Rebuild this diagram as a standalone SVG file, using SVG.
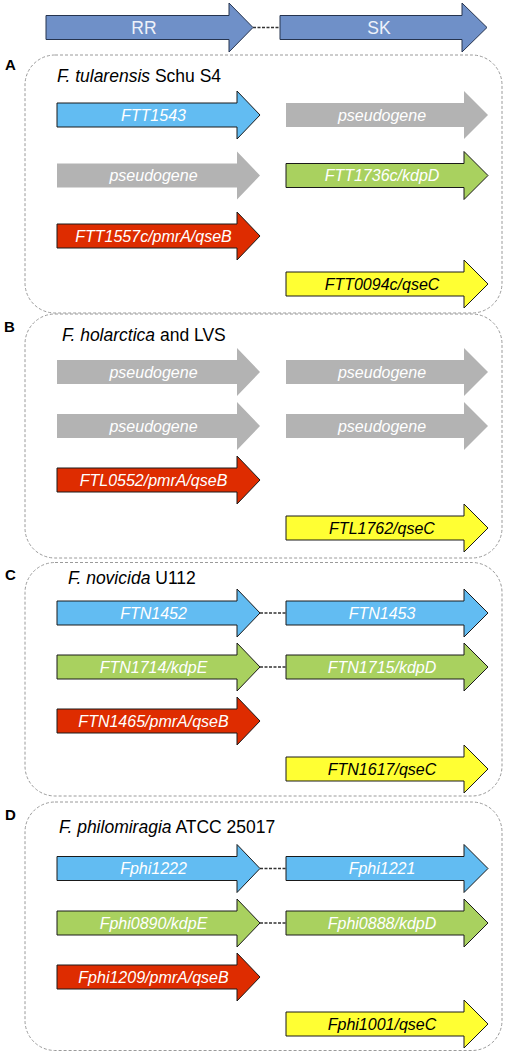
<svg xmlns="http://www.w3.org/2000/svg" xmlns:xlink="http://www.w3.org/1999/xlink" width="508" height="1054" viewBox="0 0 508 1054">
<style>
.box{fill:none;stroke:#9a9a9a;stroke-width:1;stroke-dasharray:3 2}
.lab{font-family:"Liberation Sans",Arial,sans-serif;font-size:15px;font-weight:bold;fill:#000}
.ttl{font-family:"Liberation Sans",Arial,sans-serif;font-size:17.5px;fill:#000}
.g{font-family:"Liberation Sans",Arial,sans-serif;font-size:16px;font-style:italic;fill:#fff;text-anchor:middle}
.gk{fill:#000}
.top{font-family:"Liberation Sans",Arial,sans-serif;font-size:17.5px;fill:#eef2fa;text-anchor:middle}
.conn{stroke:#333;stroke-width:1.5;stroke-dasharray:3 1.5;fill:none}
.blue{fill:#62bcf2;stroke:#1a1a1a;stroke-width:1}
.gray{fill:#b3b3b3}
.green{fill:#a9d15f;stroke:#1a1a1a;stroke-width:1}
.red{fill:#de2c00;stroke:#1a1a1a;stroke-width:1}
.yel{fill:#ffff33;stroke:#1a1a1a;stroke-width:1}
.steel{fill:#6f90c8;stroke:#26344f;stroke-width:1}
</style>
<defs>
<path id="la" d="M57,-12 H237 V-24 L260,0 L237,24 V12 H57 Z"/>
<path id="ra" d="M286,-12 H464 V-24 L488,0 L464,24 V12 H286 Z"/>
</defs>
<rect width="508" height="1054" fill="#fff"/>

<g id="connectors">
<line class="conn" x1="253" y1="27.5" x2="280" y2="27.5"/>
<line class="conn" x1="260" y1="613" x2="286" y2="613"/>
<line class="conn" x1="260" y1="667" x2="286" y2="667"/>
<line class="conn" x1="260" y1="868.5" x2="286" y2="868.5"/>
<line class="conn" x1="260" y1="923" x2="286" y2="923"/>
</g>

<g id="RR"><path class="steel" d="M46,15.5 H229 V3 L253,27.5 L229,52 V39.5 H46 Z"/><text class="top" x="144" y="34">RR</text></g>
<g id="SK"><path class="steel" d="M280,15.5 H462 V3 L487,27.5 L462,52 V39.5 H280 Z"/><text class="top" x="379" y="34">SK</text></g>

<g id="panelA">
<rect class="box" x="25" y="55" width="477" height="258" rx="30"/>
<text class="lab" x="5" y="70">A</text>
<text class="ttl" x="57" y="81.5"><tspan font-style="italic">F. tularensis</tspan> Schu S4</text>
</g>
<g id="A-FTT1543"><use xlink:href="#la" class="blue" transform="translate(0,115)"/><text class="g" x="153.5" y="120.7">FTT1543</text></g>
<g id="A-pseudo1"><use xlink:href="#ra" class="gray" transform="translate(0,115)"/><text class="g" x="382" y="120.7">pseudogene</text></g>
<g id="A-pseudo2"><use xlink:href="#la" class="gray" transform="translate(0,175.5)"/><text class="g" x="153.5" y="181.2">pseudogene</text></g>
<g id="A-FTT1736c"><use xlink:href="#ra" class="green" transform="translate(0,175.5)"/><text class="g" x="382" y="181.2">FTT1736c/kdpD</text></g>
<g id="A-FTT1557c"><use xlink:href="#la" class="red" transform="translate(0,236)"/><text class="g" x="153.5" y="241.7">FTT1557c/pmrA/qseB</text></g>
<g id="A-FTT0094c"><use xlink:href="#ra" class="yel" transform="translate(0,284)"/><text class="g gk" x="382" y="289.7">FTT0094c/qseC</text></g>

<g id="panelB">
<rect class="box" x="25" y="314" width="477" height="244" rx="30"/>
<text class="lab" x="4" y="332">B</text>
<text class="ttl" x="62" y="340.5"><tspan font-style="italic">F. holarctica</tspan> and LVS</text>
</g>
<g id="B-pseudo1"><use xlink:href="#la" class="gray" transform="translate(0,372)"/><text class="g" x="153.5" y="377.7">pseudogene</text></g>
<g id="B-pseudo2"><use xlink:href="#ra" class="gray" transform="translate(0,372)"/><text class="g" x="382" y="377.7">pseudogene</text></g>
<g id="B-pseudo3"><use xlink:href="#la" class="gray" transform="translate(0,426)"/><text class="g" x="153.5" y="431.7">pseudogene</text></g>
<g id="B-pseudo4"><use xlink:href="#ra" class="gray" transform="translate(0,426)"/><text class="g" x="382" y="431.7">pseudogene</text></g>
<g id="B-FTL0552"><use xlink:href="#la" class="red" transform="translate(0,480)"/><text class="g" x="153.5" y="485.7">FTL0552/pmrA/qseB</text></g>
<g id="B-FTL1762"><use xlink:href="#ra" class="yel" transform="translate(0,528)"/><text class="g gk" x="382" y="533.7">FTL1762/qseC</text></g>

<g id="panelC">
<rect class="box" x="25" y="562.5" width="477" height="233.5" rx="30"/>
<text class="lab" x="5" y="580">C</text>
<text class="ttl" x="68" y="583.5"><tspan font-style="italic">F. novicida</tspan> U112</text>
</g>
<g id="C-FTN1452"><use xlink:href="#la" class="blue" transform="translate(0,613)"/><text class="g" x="153.5" y="618.7">FTN1452</text></g>
<g id="C-FTN1453"><use xlink:href="#ra" class="blue" transform="translate(0,613)"/><text class="g" x="382" y="618.7">FTN1453</text></g>
<g id="C-FTN1714"><use xlink:href="#la" class="green" transform="translate(0,667)"/><text class="g" x="153.5" y="672.7">FTN1714/kdpE</text></g>
<g id="C-FTN1715"><use xlink:href="#ra" class="green" transform="translate(0,667)"/><text class="g" x="382" y="672.7">FTN1715/kdpD</text></g>
<g id="C-FTN1465"><use xlink:href="#la" class="red" transform="translate(0,721)"/><text class="g" x="153.5" y="726.7">FTN1465/pmrA/qseB</text></g>
<g id="C-FTN1617"><use xlink:href="#ra" class="yel" transform="translate(0,769)"/><text class="g gk" x="382" y="774.7">FTN1617/qseC</text></g>

<g id="panelD">
<rect class="box" x="25" y="802" width="477" height="248.5" rx="30"/>
<text class="lab" x="5" y="820">D</text>
<text class="ttl" x="59" y="833"><tspan font-style="italic">F. philomiragia</tspan> ATCC 25017</text>
</g>
<g id="D-Fphi1222"><use xlink:href="#la" class="blue" transform="translate(0,868.5)"/><text class="g" x="153.5" y="874.2">Fphi1222</text></g>
<g id="D-Fphi1221"><use xlink:href="#ra" class="blue" transform="translate(0,868.5)"/><text class="g" x="382" y="874.2">Fphi1221</text></g>
<g id="D-Fphi0890"><use xlink:href="#la" class="green" transform="translate(0,923)"/><text class="g" x="153.5" y="928.7">Fphi0890/kdpE</text></g>
<g id="D-Fphi0888"><use xlink:href="#ra" class="green" transform="translate(0,923)"/><text class="g" x="382" y="928.7">Fphi0888/kdpD</text></g>
<g id="D-Fphi1209"><use xlink:href="#la" class="red" transform="translate(0,977)"/><text class="g" x="153.5" y="982.7">Fphi1209/pmrA/qseB</text></g>
<g id="D-Fphi1001"><use xlink:href="#ra" class="yel" transform="translate(0,1024)"/><text class="g gk" x="382" y="1029.7">Fphi1001/qseC</text></g>
</svg>
